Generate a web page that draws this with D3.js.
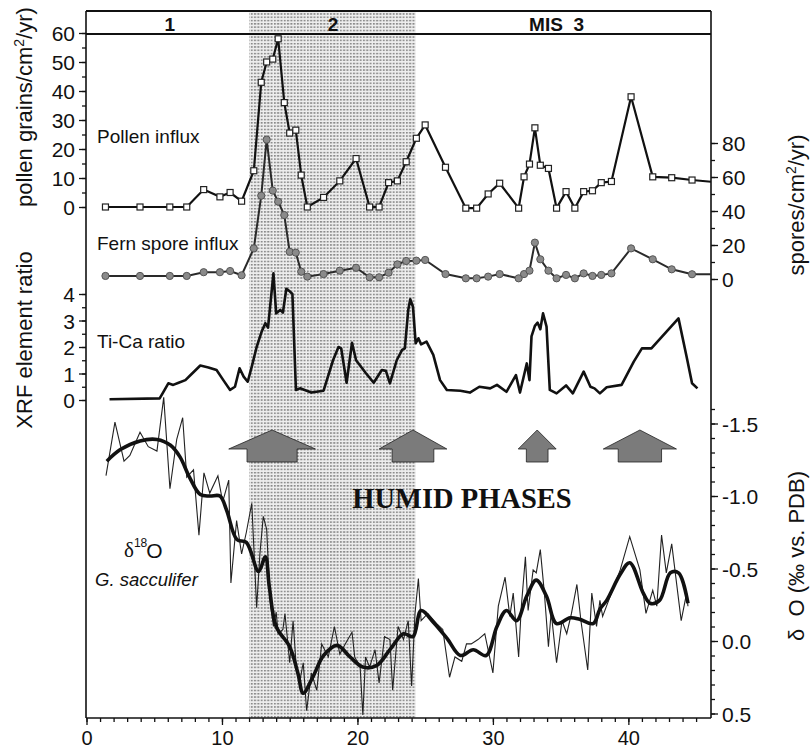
<!DOCTYPE html>
<html>
<head>
<meta charset="utf-8">
<script src="https://cdn.jsdelivr.net/npm/d3@7"></script>
<style>
body { margin: 0; background: #fff; }
svg text { font-family: "Liberation Sans", Arial, sans-serif; fill: #111; }
</style>
</head>
<body>
<svg id="chart" width="811" height="751"></svg>
<script>
// age (ka) of the pollen / fern samples
var ages = [1.4, 3.95, 6.15, 7.4, 8.65, 9.85, 10.6, 11.45, 12.35, 12.9, 13.3, 13.75, 14.15, 14.6, 15.0, 15.45, 15.85, 16.3,
	17.5, 18.7, 19.9, 20.9, 21.6, 22.3, 22.95, 23.6, 24.35, 25.0, 26.5, 28.0, 28.8, 29.65, 30.5, 31.9, 32.3, 32.7, 33.1,
	33.5, 34.1, 34.7, 35.4, 36.05, 36.7, 37.35, 38.0, 38.75, 40.2, 41.8, 43.2, 44.7, 46.1];
var pollen = [0, 0, 0, 0, 6, 3.5, 5, 2, 12.5, 43, 50, 51, 58, 36, 25.5, 26.5, 11, 0,
	3.3, 9, 16.7, 0, 0, 8.4, 9, 15.6, 23.7, 28.3, 13.7, -0.4, -0.4, 4.5, 8.2, -0.4, 10.4, 14.8, 27.3,
	14.4, 13.3, -0.4, 5.3, -0.4, 5.3, 5.6, 8.4, 8.8, 38, 10.4, 10.1, 9.3, 8.7];
var fern = [1.8, 1.8, 1.8, 1.8, 4, 4, 4.7, 2.2, 18, 49, 82, 52, 45.5, 37.6, 16, 15.5, 4.3, 1.4,
	2.9, 4.9, 6.6, 1, 1, 3.7, 8.6, 10.6, 10.8, 11.2, 2.9, 0.4, 0.4, 1.4, 2.9, 0.4, 2.9, 4.9, 21.4,
	11.6, 4.9, 0.4, 2.4, 0.4, 3.3, 1.8, 2.4, 3.3, 18, 11.6, 5.7, 2.8, 2.8];

// XRF Ti/Ca
var tiAges = [1.7, 5.4, 5.67, 6.04, 6.4, 6.8, 7.3, 7.76, 8.4, 9.0, 9.6, 10.1, 10.6, 10.96, 11.3, 11.6, 11.9, 12.2, 12.56,
	12.93, 13.2, 13.4, 13.8, 14.0, 14.3, 14.5, 14.75, 15.0, 15.2, 15.46, 15.76, 16.6, 17.5, 18.2, 18.6, 18.8, 19.2,
	19.6, 19.9, 20.6, 21.2, 21.8, 22.1, 22.4, 22.9, 23.3, 23.5, 23.75, 23.9, 24.1, 24.3, 24.5, 24.7, 25.1, 25.6,
	26.1, 26.6, 27.6, 28.3, 29.0, 29.8, 30.3, 31.0, 31.7, 32.0, 32.5, 32.7, 32.85, 33.1, 33.3, 33.5, 33.7, 33.96,
	34.2, 34.7, 35.4, 35.9, 36.7, 37.2, 37.5, 37.9, 38.4, 39.5, 40.4, 41.0, 41.7, 43.7, 44.3, 44.7, 45.1];
var tiCa = [0.03, 0.06, 0.3, 0.63, 0.57, 0.65, 0.75, 0.98, 1.3, 1.23, 1.13, 0.75, 0.38, 0.5, 1.2, 0.88, 0.69, 1.26, 2.0,
	2.58, 2.9, 2.73, 4.78, 3.27, 3.4, 3.3, 4.2, 4.1, 4.0, 0.38, 0.44, 0.28, 0.35, 1.5, 2.0, 1.95, 0.65,
	2.16, 1.5, 1.03, 0.65, 1.13, 1.1, 0.63, 1.5, 1.89, 1.95, 3.4, 3.8, 3.52, 2.14, 2.33, 2.1, 2.2, 1.7,
	0.75, 0.38, 0.35, 0.28, 0.5, 0.44, 0.57, 0.31, 0.94, 0.28, 1.38, 0.75, 2.4, 2.8, 2.92, 2.67, 3.27, 2.77,
	0.38, 0.25, 0.55, 0.25, 1.07, 0.5, 0.44, 0.25, 0.48, 0.57, 1.45, 1.95, 1.95, 3.08, 1.63, 0.63, 0.44];

// d18O G. sacculifer, measured values
var o18Ages = [1.44, 2.1, 2.77, 3.2, 3.95, 4.56, 5.2, 5.7, 6.16, 6.66, 7.1, 7.4, 7.9, 8.3, 8.67, 9.1, 9.7, 10.05, 10.5,
	10.66, 11.08, 11.45, 11.8, 12.2, 12.56, 12.8, 13.05, 13.3, 13.55, 13.8, 14.0, 14.15, 14.5, 14.65, 15.0, 15.25,
	15.5, 15.76, 16.0, 16.25, 16.6, 17.0, 17.36, 17.85, 18.3, 18.7, 19.1, 19.6, 19.8, 20.2, 20.4, 20.6, 20.9, 21.3,
	21.6, 22.0, 22.4, 22.6, 23.0, 23.4, 23.75, 24.0, 24.25, 24.5, 24.7, 25.2, 25.85, 26.3, 26.8, 27.2, 27.7, 28.05,
	28.4, 28.9, 29.4, 30.0, 30.4, 30.9, 31.25, 31.5, 31.9, 32.1, 32.4, 32.6, 32.97, 33.2, 33.5, 33.8, 34.1, 34.3,
	34.7, 35.1, 35.45, 35.8, 36.2, 36.5, 37.0, 37.3, 37.65, 37.9, 38.1, 38.75, 39.4, 40.1, 40.85, 41.3, 41.8, 42.1,
	42.45, 42.8, 43.2, 43.9, 44.3, 44.4];
var o18Raw = [-1.14, -1.51, -1.24, -1.28, -1.44, -1.34, -1.31, -1.68, -1.05, -1.39, -1.54, -1.13, -1.18, -0.73, -1.16, -1.02, -1.14, -0.96, -1.11,
	-0.4, -0.83, -0.6, -0.75, -0.95, -0.23, -0.6, -0.86, -0.77, -0.28, -0.1, -0.2, -0.05, -0.08, -0.19, 0.15, -0.14,
	0.2, 0.27, 0.15, 0.48, 0.22, 0.34, 0.02, 0.11, -0.1, 0.09, 0.02, -0.06, 0.11, 0.18, 0.51, 0.11, 0.18, 0.06,
	0.29, -0.03, -0.01, 0.34, -0.1, -0.01, -0.14, 0.31, -0.19, -0.43, -0.14, -0.19, -0.12, -0.08, 0.25, 0.11, 0.14, 0.02,
	0.02, -0.01, -0.05, 0.22, -0.24, -0.44, -0.17, -0.33, 0.11, -0.24, -0.58, -0.21, -0.49, -0.47, -0.63, -0.33, 0.04, -0.2,
	0.15, -0.14, -0.05, -0.19, -0.39, -0.14, 0.2, -0.33, -0.1, -0.28, -0.17, -0.33, -0.49, -0.72, -0.49, -0.19, -0.35, -0.24,
	-0.73, -0.47, -0.67, -0.14, -0.33, -0.24];
// smoothed d18O
var smoothAges = [1.5, 2.5, 3.95, 5.2, 6.2, 6.9, 7.6, 8.4, 9.1, 9.85, 10.35, 11.1, 11.8, 12.7, 13.2, 13.5, 14.0, 15.0,
	15.6, 16.0, 16.7, 17.5, 18.5, 19.45, 20.4, 21.4, 22.4, 23.4, 24.1, 24.7, 25.6, 26.6, 27.6, 28.55, 29.5, 30.3,
	31.0, 31.75, 32.5, 33.2, 33.95, 34.7, 35.7, 36.4, 37.4, 37.9, 38.4, 39.4, 40.1, 41.1, 41.6, 42.3, 43.1, 43.7, 44.4];
var o18Smooth = [-1.24, -1.32, -1.38, -1.39, -1.35, -1.27, -1.13, -1.01, -1.0, -1.0, -0.9, -0.7, -0.68, -0.48, -0.58, -0.37, -0.1, 0.04,
	0.22, 0.36, 0.25, 0.1, 0.03, 0.11, 0.18, 0.17, 0.06, -0.05, -0.03, -0.21, -0.13, -0.02, 0.1, 0.06, 0.1, -0.1,
	-0.21, -0.14, -0.31, -0.42, -0.31, -0.12, -0.16, -0.15, -0.12, -0.22, -0.28, -0.46, -0.54, -0.33, -0.26, -0.28, -0.47, -0.47, -0.26];

// humid phases: centre age and half span (ka) of arrow head / stem
var humidCentre = [13.7, 24.1, 33.27, 40.85];
var humidHead = [3.2, 2.5, 1.4, 2.7];
var humidStem = [1.85, 1.54, 0.8, 1.6];

// marine isotope stages
var stageLabels = ["1", "2", "MIS  3"];
var stageMid = [6.15, 18.2, 34.7];
var shaded = [12, 24.3];

var xTicks = [0, 10, 20, 30, 40];
var pollenTicks = [0, 10, 20, 30, 40, 50, 60];
var sporeTicks = [0, 20, 40, 60, 80];
var tiTicks = [0, 1, 2, 3, 4];
var o18Ticks = [-1.5, -1.0, -0.5, 0.0, 0.5];

var svg = d3.select("#chart");
var L = 86, R = 711, T = 11, B = 718;

var x = d3.scaleLinear().domain([0, 46.1]).range([86.5, 711]);
var yPollen = d3.scaleLinear().domain([0, 60]).range([207, 33]);
var ySpore = d3.scaleLinear().domain([0, 80]).range([279, 143]);
var yTi = d3.scaleLinear().domain([0, 4]).range([400, 294]);
var yO = d3.scaleLinear().domain([-1.5, 0.5]).range([423.5, 713.5]);

// stipple pattern for stage 2
var pat = svg.append("defs").append("pattern").attr("id", "dots")
	.attr("width", 3.3).attr("height", 3.3).attr("patternUnits", "userSpaceOnUse");
pat.append("rect").attr("width", 3.3).attr("height", 3.3).attr("fill", "#eeeeee");
pat.append("rect").attr("width", 2).attr("height", 1.5).attr("fill", "#888");

svg.append("rect")
	.attr("x", x(shaded[0])).attr("y", T)
	.attr("width", x(shaded[1]) - x(shaded[0])).attr("height", B - T)
	.attr("fill", "url(#dots)");

// stage box
svg.append("line").attr("x1", L).attr("x2", R).attr("y1", T).attr("y2", T).attr("stroke", "#111").attr("stroke-width", 2);
svg.append("line").attr("x1", L).attr("x2", R).attr("y1", 34).attr("y2", 34).attr("stroke", "#111").attr("stroke-width", 2);
svg.selectAll(".stage").data(stageLabels).enter().append("text")
	.attr("x", function(d, i) { return x(stageMid[i]); })
	.attr("y", 31)
	.attr("text-anchor", "middle")
	.attr("font-size", "19px").attr("font-weight", "bold")
	.attr("xml:space", "preserve")
	.text(function(d) { return d; });

// frame lines
svg.append("line").attr("x1", L).attr("x2", L).attr("y1", T).attr("y2", B).attr("stroke", "#111").attr("stroke-width", 1.6);
svg.append("line").attr("x1", R).attr("x2", R).attr("y1", T).attr("y2", B).attr("stroke", "#111").attr("stroke-width", 1.6);
svg.append("line").attr("x1", L).attr("x2", R).attr("y1", B).attr("y2", B).attr("stroke", "#111").attr("stroke-width", 1.6);

function styleAxis(g, size) {
	g.select(".domain").remove();
	g.attr("font-family", null).attr("font-size", null);
	g.selectAll("line").attr("stroke", "#111").attr("stroke-width", 1.3);
	g.selectAll("text").attr("font-size", size).attr("fill", "#111");
}

function sideAxis(axisFn, scale, xpos, major, minor, fmt) {
	var g1 = svg.append("g").attr("transform", "translate(" + xpos + ",0)")
		.call(axisFn(scale).tickValues(minor).tickSize(4).tickFormat(""));
	styleAxis(g1, "21px");
	var g2 = svg.append("g").attr("transform", "translate(" + xpos + ",0)")
		.call(axisFn(scale).tickValues(major).tickSize(7).tickPadding(4).tickFormat(fmt));
	styleAxis(g2, "21px");
	g2.selectAll("text").attr("dy", "0.36em");
}

sideAxis(d3.axisLeft, yPollen, L, pollenTicks, d3.range(0, 61, 5), d3.format("d"));
sideAxis(d3.axisLeft, yTi, L, tiTicks, d3.range(0, 4.01, 0.5), d3.format("d"));
sideAxis(d3.axisRight, ySpore, R, sporeTicks, d3.range(0, 81, 10), d3.format("d"));
sideAxis(d3.axisRight, yO, R, o18Ticks, d3.range(-16, 6).map(function(v) { return v / 10; }),
	function(d) { return d.toFixed(1); });

// bottom axis
var gx1 = svg.append("g").attr("transform", "translate(0," + B + ")")
	.call(d3.axisBottom(x).tickValues(d3.range(0, 46, 1)).tickSize(4).tickFormat(""));
styleAxis(gx1, "20px");
var gx2 = svg.append("g").attr("transform", "translate(0," + B + ")")
	.call(d3.axisBottom(x).tickValues(xTicks).tickSize(7).tickPadding(6));
styleAxis(gx2, "20px");

// axis titles
function vTitle(tx, ty) {
	return svg.append("text")
		.attr("transform", "translate(" + tx + "," + ty + ") rotate(-90)")
		.attr("text-anchor", "middle").attr("font-size", "22px");
}
var t1 = vTitle(32, 107);
t1.append("tspan").text("pollen grains/cm");
t1.append("tspan").attr("font-size", "14px").attr("dy", "-0.6em").text("2");
t1.append("tspan").attr("dy", "0.4em").text("/yr)");
vTitle(32, 340).text("XRF element ratio");
var t3 = vTitle(804, 205);
t3.append("tspan").text("spores/cm");
t3.append("tspan").attr("font-size", "14px").attr("dy", "-0.6em").text("2");
t3.append("tspan").attr("dy", "0.4em").text("/yr)");
vTitle(804, 556).attr("xml:space", "preserve").text("\u03b4  O (\u2030 vs. PDB)");

// series labels
svg.append("text").attr("x", 97).attr("y", 143).attr("font-size", "19px").text("Pollen influx");
svg.append("text").attr("x", 97).attr("y", 250).attr("font-size", "19px").text("Fern spore influx");
svg.append("text").attr("x", 97).attr("y", 348).attr("font-size", "19px").text("Ti-Ca ratio");
var dl = svg.append("text").attr("x", 124).attr("y", 557).attr("font-size", "21px");
dl.append("tspan").attr("font-family", "Liberation Serif, serif").text("\u03b4");
dl.append("tspan").attr("font-size", "12px").attr("dy", "-0.8em").text("18");
dl.append("tspan").attr("dy", "0.5em").attr("dx", "-1").text("O");
svg.append("text").attr("x", 95).attr("y", 586).attr("font-size", "18.5px").attr("font-style", "italic").text("G. sacculifer");

svg.append("text").attr("x", 462).attr("y", 508).attr("text-anchor", "middle")
	.attr("font-size", "28.5px").attr("font-weight", "bold")
	.style("font-family", "'Liberation Serif', 'Times New Roman', serif")
	.text("HUMID PHASES");

// humid phase arrows
var tipY = 430, wingY = 449, baseY = 462;
svg.selectAll(".arrow").data(humidCentre).enter().append("polygon")
	.attr("points", function(c, i) {
		var p = [[x(c), tipY], [x(c + humidHead[i]), wingY], [x(c + humidStem[i]), wingY],
			[x(c + humidStem[i]), baseY], [x(c - humidStem[i]), baseY], [x(c - humidStem[i]), wingY],
			[x(c - humidHead[i]), wingY]];
		return p.map(function(q) { return q.join(","); }).join(" ");
	})
	.attr("fill", "#7b7b7b").attr("stroke", "#222").attr("stroke-width", 0.8);

// Ti/Ca
var tiData = d3.zip(tiAges, tiCa);
svg.append("path").datum(tiData)
	.attr("d", d3.line().x(function(d) { return x(d[0]); }).y(function(d) { return yTi(d[1]); }))
	.attr("fill", "none").attr("stroke", "#111").attr("stroke-width", 2.6).attr("stroke-linejoin", "round");

// d18O raw and smoothed
svg.append("path").datum(d3.zip(o18Ages, o18Raw))
	.attr("d", d3.line().x(function(d) { return x(d[0]); }).y(function(d) { return yO(d[1]); }))
	.attr("fill", "none").attr("stroke", "#222").attr("stroke-width", 1.1);
svg.append("path").datum(d3.zip(smoothAges, o18Smooth))
	.attr("d", d3.line().curve(d3.curveCatmullRom).x(function(d) { return x(d[0]); }).y(function(d) { return yO(d[1]); }))
	.attr("fill", "none").attr("stroke", "#111").attr("stroke-width", 3.6).attr("stroke-linejoin", "round");

// fern spores
var fernData = d3.zip(ages, fern);
svg.append("path").datum(fernData)
	.attr("d", d3.line().x(function(d) { return x(d[0]); }).y(function(d) { return ySpore(d[1]); }))
	.attr("fill", "none").attr("stroke", "#2a2a2a").attr("stroke-width", 2);
svg.selectAll(".fern").data(fernData.filter(function(d) { return d[0] < 46; })).enter().append("circle")
	.attr("cx", function(d) { return x(d[0]); })
	.attr("cy", function(d) { return ySpore(d[1]); })
	.attr("r", 3.6)
	.attr("fill", "#8a8a8a").attr("stroke", "#555").attr("stroke-width", 1);

// pollen
var pollenData = d3.zip(ages, pollen);
svg.append("path").datum(pollenData)
	.attr("d", d3.line().x(function(d) { return x(d[0]); }).y(function(d) { return yPollen(d[1]); }))
	.attr("fill", "none").attr("stroke", "#111").attr("stroke-width", 2.2);
svg.selectAll(".pollen").data(pollenData.filter(function(d) { return d[0] < 46; })).enter().append("rect")
	.attr("x", function(d) { return x(d[0]) - 3; })
	.attr("y", function(d) { return yPollen(d[1]) - 3; })
	.attr("width", 6).attr("height", 6)
	.attr("fill", "#fff").attr("stroke", "#222").attr("stroke-width", 1.2);
</script>
</body>
</html>
